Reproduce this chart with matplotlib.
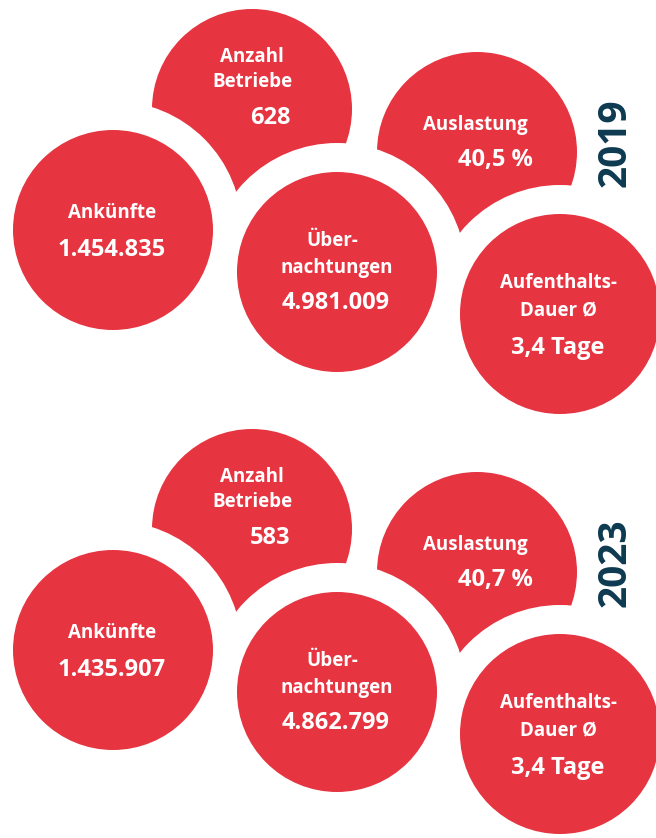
#!/usr/bin/env python3
"""Bubble summary of tourism key figures, 2019 vs 2023."""
import matplotlib.pyplot as plt
from matplotlib.patches import Circle

YEARS = ["2019", "2023"]
BETRIEBE = ["628", "583"]
AUSLASTUNG = ["40,5 %", "40,7 %"]
ANKUENFTE = ["1.454.835", "1.435.907"]
UEBERNACHTUNGEN = ["4.981.009", "4.862.799"]
AUFENTHALT = ["3,4 Tage", "3,4 Tage"]

RED = "#E63441"
NAVY = "#0D3A50"
FONT = ["Open Sans", "DejaVu Sans"]
R = 100
GAP = 29
PANEL_SHIFT = 420

# bubble centres (pixel coords of the top panel)
C_BETRIEBE = (252, 109)
C_AUSLASTUNG = (477, 152)
C_ANKUENFTE = (113, 230)
C_UEBER = (337, 272)
C_AUFENTHALT = (560, 314)

fig = plt.figure(figsize=(6.56, 8.38), dpi=100)
ax = fig.add_axes([0, 0, 1, 1])
ax.set_xlim(0, 656)
ax.set_ylim(838, 0)
ax.set_aspect("equal")
ax.axis("off")


def txt(x, y, s, size, **kw):
    ax.text(x, y, s, color="white", fontsize=size, fontweight="bold",
            family=FONT, ha="center", va="center", zorder=10, **kw)


for i, year in enumerate(YEARS):
    dy = i * PANEL_SHIFT

    def at(c):
        return (c[0], c[1] + dy)

    # back bubbles
    for c in (C_BETRIEBE, C_AUSLASTUNG):
        ax.add_patch(Circle(at(c), R, color=RED, lw=0, zorder=1))
    # white halos of front bubbles cut into the back ones
    for c in (C_ANKUENFTE, C_UEBER, C_AUFENTHALT):
        ax.add_patch(Circle(at(c), R + GAP, color="white", lw=0, zorder=2))
    for c in (C_ANKUENFTE, C_UEBER, C_AUFENTHALT):
        ax.add_patch(Circle(at(c), R, color=RED, lw=0, zorder=3))

    txt(252, 57 + dy, "Anzahl", 13.5)
    txt(252, 82 + dy, "Betriebe", 13.5)
    txt(270, 118 + dy, BETRIEBE[i], 17)

    txt(475, 125 + dy, "Auslastung", 13.5)
    txt(495, 160 + dy, AUSLASTUNG[i], 17)

    txt(112, 213 + dy, "Ankünfte", 13.5)
    txt(112, 250 + dy, ANKUENFTE[i], 17)

    txt(332, 241 + dy, "Über-", 13.5)
    txt(337, 268 + dy, "nachtungen", 13.5)
    txt(336, 303 + dy, UEBERNACHTUNGEN[i], 17)

    txt(558, 283 + dy, "Aufenthalts-", 13.5)
    txt(558, 311 + dy, "Dauer Ø", 13.5)
    txt(558, 348 + dy, AUFENTHALT[i], 17)

    ax.text(615, 143 + dy, year, color=NAVY, fontsize=28, fontweight="bold",
            family=FONT, rotation=90, ha="center", va="center")

fig.savefig("out.png", dpi=100)
